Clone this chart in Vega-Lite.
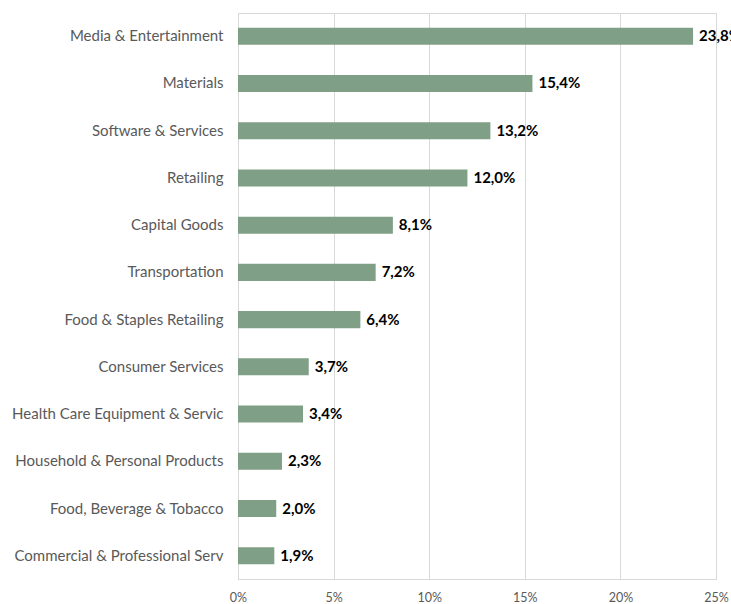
{
  "$schema": "https://vega.github.io/schema/vega-lite/v6.json",
  "autosize": {"type": "none"},
  "padding": {"left": 238, "top": 13, "right": 15, "bottom": 25},
  "width": 478,
  "height": 566,
  "config": {
    "locale": {"number": {"decimal": ",", "thousands": ".", "grouping": [3], "currency": ["", " €"]}},
    "view": {"stroke": "#d9d9d9", "strokeWidth": 1},
    "font": "Lato"
  },
  "data": {"values": [
    {"sector": "Media & Entertainment", "share": 0.238},
    {"sector": "Materials", "share": 0.154},
    {"sector": "Software & Services", "share": 0.132},
    {"sector": "Retailing", "share": 0.120},
    {"sector": "Capital Goods", "share": 0.081},
    {"sector": "Transportation", "share": 0.072},
    {"sector": "Food & Staples Retailing", "share": 0.064},
    {"sector": "Consumer Services", "share": 0.037},
    {"sector": "Health Care Equipment & Servic", "share": 0.034},
    {"sector": "Household & Personal Products", "share": 0.023},
    {"sector": "Food, Beverage & Tobacco", "share": 0.020},
    {"sector": "Commercial & Professional Serv", "share": 0.019}
  ]},
  "encoding": {
    "y": {"field": "sector", "type": "nominal", "sort": null,
      "scale": {"paddingInner": 0.64, "paddingOuter": 0.31},
      "axis": {"title": null, "ticks": false, "domain": false, "labelFontSize": 15, "labelColor": "#595959", "labelPadding": 15, "labelLimit": 300, "labelFont": "Lato"}},
    "x": {"field": "share", "type": "quantitative",
      "scale": {"domain": [0, 0.25], "nice": false},
      "axis": {"title": null, "format": ".0%", "values": [0, 0.05, 0.1, 0.15, 0.2, 0.25], "ticks": false, "labelFlush": false, "domainColor": "#d9d9d9", "gridColor": "#d9d9d9", "labelFontSize": 12.5, "labelColor": "#595959", "labelPadding": 12, "labelFont": "Lato"}}
  },
  "layer": [
    {"mark": {"type": "bar", "color": "#7f9f86"}},
    {"mark": {"type": "text", "align": "left", "dx": 6, "fontWeight": "bold", "fontSize": 15, "color": "#000000", "font": "Lato"},
     "encoding": {"text": {"field": "share", "type": "quantitative", "format": ".1%"}}}
  ]
}
